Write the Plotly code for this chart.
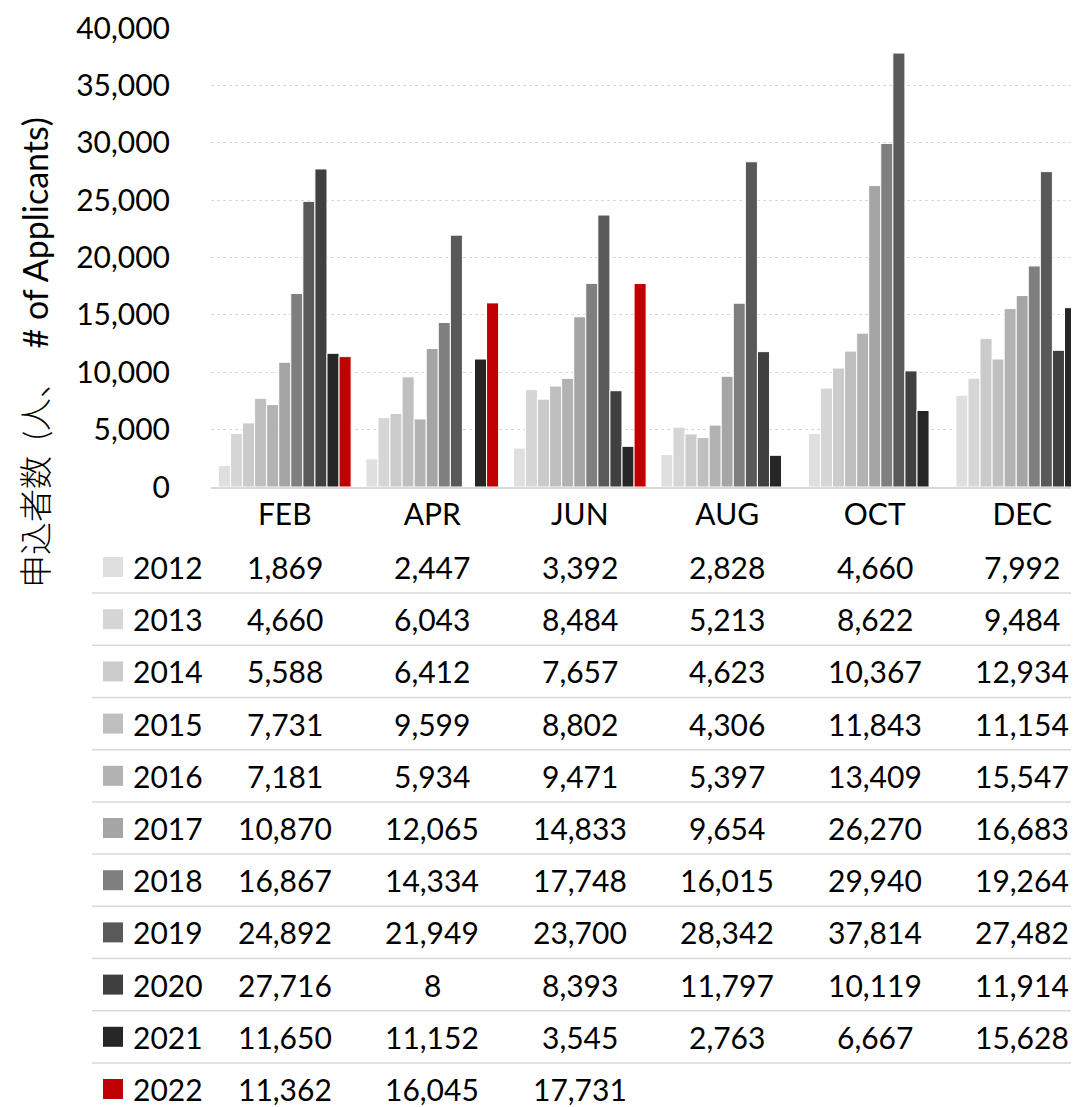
import plotly.graph_objects as go

months = ["FEB", "APR", "JUN", "AUG", "OCT", "DEC"]
years = ["2012", "2013", "2014", "2015", "2016", "2017", "2018", "2019", "2020", "2021", "2022"]

v2012 = [1869, 2447, 3392, 2828, 4660, 7992]
v2013 = [4660, 6043, 8484, 5213, 8622, 9484]
v2014 = [5588, 6412, 7657, 4623, 10367, 12934]
v2015 = [7731, 9599, 8802, 4306, 11843, 11154]
v2016 = [7181, 5934, 9471, 5397, 13409, 15547]
v2017 = [10870, 12065, 14833, 9654, 26270, 16683]
v2018 = [16867, 14334, 17748, 16015, 29940, 19264]
v2019 = [24892, 21949, 23700, 28342, 37814, 27482]
v2020 = [27716, 8, 8393, 11797, 10119, 11914]
v2021 = [11650, 11152, 3545, 2763, 6667, 15628]
v2022 = [11362, 16045, 17731, None, None, None]

series = [v2012, v2013, v2014, v2015, v2016, v2017, v2018, v2019, v2020, v2021, v2022]
colors = ["#dfdfdf", "#d6d6d6", "#cbcbcb", "#bfbfbf", "#b2b2b2", "#a5a5a5",
          "#7f7f7f", "#595959", "#404040", "#262626", "#c00000"]

y_ticks = [0, 5000, 10000, 15000, 20000, 25000, 30000, 35000, 40000]
y_title_cjk = "申込者数\u2002(人、\u2002"
y_title_latin = "# of Applicants)"

FONT = "Lato, 'Noto Sans CJK JP', sans-serif"
OFF = 8  # page body margin
W, H = 1079 - OFF, 1107 - OFF
L, T, B = 211 - OFF, 28 - OFF, 487 - OFF
PH = B - T
PW = W - L

def px_x(px):
    return (px - OFF - L) / PW

def px_y(py):
    return (B - (py - OFF)) / PH

fig = go.Figure()
for yr, vals, col in zip(years, series, colors):
    fig.add_trace(go.Bar(
        x=months, y=vals, name=yr, marker=dict(color=col, line=dict(color="white", width=1)),
        showlegend=False, hoverinfo="x+y+name"))

annotations = []
shapes = []
row0 = 567
dy = 52.2
for r, (yr, vals, col) in enumerate(zip(years, series, colors)):
    cy = row0 + r * dy
    shapes.append(dict(type="rect", xref="paper", yref="paper",
                       x0=px_x(103), x1=px_x(123), y0=px_y(cy + 10), y1=px_y(cy - 10),
                       fillcolor=col, line=dict(width=0)))
    annotations.append(dict(text=yr, xref="paper", yref="paper", x=px_x(131), y=px_y(cy),
                            xanchor="left", yanchor="middle", showarrow=False,
                            font=dict(size=30, color="#000", family=FONT)))
    for m, v in zip(months, vals):
        if v is None:
            continue
        annotations.append(dict(text=f"{v:,}", xref="x", yref="paper", x=m, y=px_y(cy),
                                xanchor="center", yanchor="middle", showarrow=False,
                                font=dict(size=30, color="#000", family=FONT)))
    if r < len(years) - 1:
        ly = cy + dy / 2
        shapes.append(dict(type="line", xref="paper", yref="paper",
                           x0=px_x(92), x1=1, y0=px_y(ly), y1=px_y(ly),
                           line=dict(color="#d9d9d9", width=1.5)))

annotations.append(dict(
    text=f'<span style="font-size:33px;font-weight:300">{y_title_cjk}</span>{y_title_latin}',
    xref="paper", yref="paper", x=px_x(34), y=px_y(353),
    xanchor="center", yanchor="middle", textangle=-90, showarrow=False,
    font=dict(size=34, color="#000", family=FONT)))

fig.update_layout(
    width=W, height=H,
    margin=dict(l=L, r=0, t=T, b=H - B),
    paper_bgcolor="white", plot_bgcolor="white",
    barmode="group", bargap=0.1, bargroupgap=0,
    font=dict(family=FONT, size=30, color="#000"),
    annotations=annotations, shapes=shapes,
    xaxis=dict(type="category", range=[-0.5, -0.5 + PW / 147.5], showgrid=False,
               showline=True, linecolor="#d9d9d9", linewidth=2, ticks="",
               tickfont=dict(size=30, color="#000", family=FONT), ticklabelstandoff=0),
    yaxis=dict(range=[0, 40000], tickvals=y_ticks, tickformat=",", showgrid=True,
               gridcolor="#d9d9d9", griddash="dot", gridwidth=1, zeroline=False,
               showline=False, ticks="", ticklabelstandoff=40,
               tickfont=dict(size=30, color="#000", family=FONT)),
)

fig.write_html("out.html")
